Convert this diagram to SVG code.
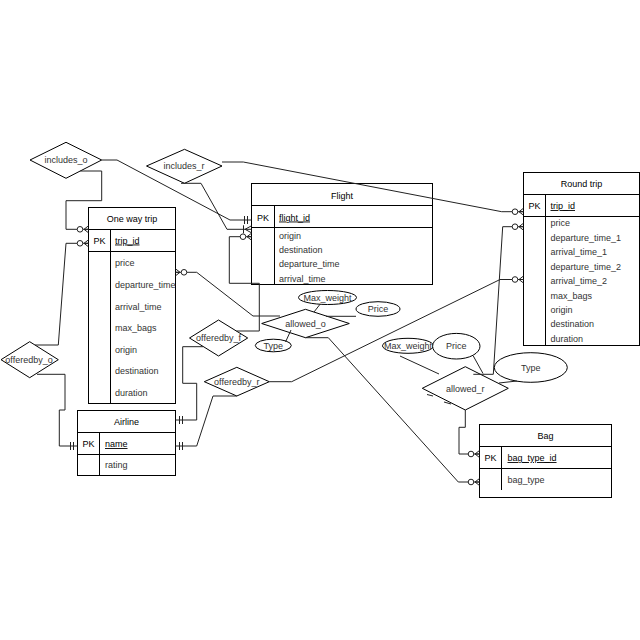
<svg xmlns="http://www.w3.org/2000/svg" width="640" height="640" viewBox="0 0 640 640">
<style>
.t{font-family:"Liberation Sans",Arial,sans-serif;font-size:9px;fill:#333}
.b{fill:#000}
.u{text-decoration:underline}
.c{text-anchor:middle}
.box{fill:#fff;stroke:#000;stroke-width:1}
.ln{fill:none;stroke:#000;stroke-width:1}
.sh{fill:#fff;stroke:#000;stroke-width:1}
.cn{fill:none;stroke:#222;stroke-width:1}
</style>
<defs>
<marker id="zm" viewBox="0 0 22 12" markerWidth="22" markerHeight="12" refX="20" refY="6" orient="auto" markerUnits="userSpaceOnUse">
<path d="M15.5,6 L20,2.5 M15.5,6 L20,9.5 M15.5,6 H20" fill="none" stroke="#222"/>
<circle cx="11.5" cy="6" r="2.8" fill="#fff" stroke="#222"/>
</marker>
<marker id="m1" viewBox="0 0 22 12" markerWidth="22" markerHeight="12" refX="20" refY="6" orient="auto" markerUnits="userSpaceOnUse">
<path d="M13,2 V10 M16,2 V10" fill="none" stroke="#222"/>
</marker>
<marker id="om" viewBox="0 0 22 12" markerWidth="22" markerHeight="12" refX="20" refY="6" orient="auto" markerUnits="userSpaceOnUse">
<path d="M12,2 V10 M13.5,6 L20,2.5 M13.5,6 L20,9.5" fill="none" stroke="#222"/>
</marker>
</defs>
<rect width="640" height="640" fill="#fff"/>

<g id="one_way_trip">
<rect class="box" x="88.5" y="207.5" width="87" height="196"/>
<path class="ln" d="M88.5,229.5 H175.5 M88.5,251.5 H175.5 M110.5,229.5 V403.5"/>
<text class="t b c" x="132" y="222">One way trip</text>
<text class="t b c" x="99.5" y="243.5">PK</text>
<text class="t b u" x="115" y="243.5">trip_id</text>
<text class="t" x="115" y="265.5">price</text>
<text class="t" x="115" y="287.5">departure_time</text>
<text class="t" x="115" y="309.5">arrival_time</text>
<text class="t" x="115" y="330.5">max_bags</text>
<text class="t" x="115" y="352.5">origin</text>
<text class="t" x="115" y="374">destination</text>
<text class="t" x="115" y="395.5">duration</text>
</g>

<g id="flight">
<rect class="box" x="251.5" y="183.5" width="181" height="101"/>
<path class="ln" d="M251.5,205.5 H432.5 M251.5,227.5 H432.5 M274.5,205.5 V284.5"/>
<text class="t b c" x="342" y="198.5">Flight</text>
<text class="t b c" x="263" y="220.5">PK</text>
<text class="t b u" x="279" y="220.5">flight_id</text>
<text class="t" x="279" y="238.5">origin</text>
<text class="t" x="279" y="252.5">destination</text>
<text class="t" x="279" y="267">departure_time</text>
<text class="t" x="279" y="281.5">arrival_time</text>
</g>

<g id="round_trip">
<rect class="box" x="523.5" y="172.5" width="116" height="173"/>
<path class="ln" d="M523.5,194.5 H639.5 M523.5,216.5 H639.5 M545.5,194.5 V345.5"/>
<text class="t b c" x="581.5" y="186.5">Round trip</text>
<text class="t b c" x="534.5" y="209">PK</text>
<text class="t b u" x="550.5" y="209">trip_id</text>
<text class="t" x="550.5" y="225.5">price</text>
<text class="t" x="550.5" y="240.5">departure_time_1</text>
<text class="t" x="550.5" y="255">arrival_time_1</text>
<text class="t" x="550.5" y="269.5">departure_time_2</text>
<text class="t" x="550.5" y="284">arrival_time_2</text>
<text class="t" x="550.5" y="298.5">max_bags</text>
<text class="t" x="550.5" y="312.5">origin</text>
<text class="t" x="550.5" y="327">destination</text>
<text class="t" x="550.5" y="341.5">duration</text>
</g>

<g id="airline">
<rect class="box" x="77.5" y="410.5" width="98" height="65"/>
<path class="ln" d="M77.5,432.5 H175.5 M77.5,454.5 H175.5 M99.5,432.5 V475.5"/>
<text class="t b c" x="126.5" y="424.5">Airline</text>
<text class="t b c" x="88.5" y="447">PK</text>
<text class="t b u" x="105" y="447">name</text>
<text class="t" x="105" y="468">rating</text>
</g>

<g id="bag">
<rect class="box" x="479.5" y="424.5" width="132" height="73"/>
<path class="ln" d="M479.5,446.5 H611.5 M479.5,468.5 H611.5 M501.5,446.5 V490"/>
<text class="t b c" x="545.5" y="439">Bag</text>
<text class="t b c" x="490.5" y="461">PK</text>
<text class="t b u" x="507.5" y="461">bag_type_id</text>
<text class="t" x="507.5" y="483">bag_type</text>
</g>

<g id="includes_o">
<polygon class="sh" points="30,160 66,142.3 101.7,160 66,178.3"/>
<text class="t c" x="66" y="163">includes_o</text>
</g>
<g id="includes_r">
<polygon class="sh" points="146.5,166 184.5,149.3 222,166 184.5,183.3"/>
<text class="t c" x="184" y="169">includes_r</text>
</g>
<g id="offeredby_o">
<polygon class="sh" points="1,359.7 29.7,341.7 58.3,359.7 29.7,377.7"/>
<text class="t c" x="29" y="362.7">offeredby_o</text>
</g>
<g id="offeredby_f">
<polygon class="sh" points="189.5,338 218.5,320 247.7,338 218.5,356"/>
<text class="t c" x="218.5" y="341">offeredby_f</text>
</g>
<g id="offeredby_r">
<polygon class="sh" points="204.3,381.7 236.8,367.3 269.3,381.7 236.8,396"/>
<text class="t c" x="236.8" y="384.5">offeredby_r</text>
</g>
<g id="allowed_o">
<polygon class="sh" points="261.7,323.5 305.5,309.3 349.3,323.5 305.5,337.7"/>
<text class="t c" x="305.5" y="326.5">allowed_o</text>
</g>
<g id="allowed_r">
<polygon class="sh" points="422.3,388.3 465.3,366.7 508.3,388.3 465.3,410"/>
<text class="t c" x="465.3" y="391.5">allowed_r</text>
</g>

<g id="max_weight_o">
<ellipse class="sh" cx="327.5" cy="297.5" rx="29" ry="7"/>
<text class="t c" x="327.5" y="300.5">Max_weight</text>
</g>
<g id="price_o">
<ellipse class="sh" cx="378" cy="309" rx="22" ry="7.3"/>
<text class="t c" x="378" y="312">Price</text>
</g>
<g id="type_o">
<ellipse class="sh" cx="273.3" cy="345.5" rx="18" ry="6.3"/>
<text class="t c" x="273.3" y="348.5">Type</text>
</g>
<g id="max_weight_r">
<ellipse class="sh" cx="408" cy="345.8" rx="25.5" ry="7.5"/>
<text class="t c" x="408" y="348.8">Max_weight</text>
</g>
<g id="price_r">
<ellipse class="sh" cx="456.3" cy="346.2" rx="23.7" ry="12.8"/>
<text class="t c" x="456.3" y="349.2">Price</text>
</g>
<g id="type_r">
<ellipse class="sh" cx="530.8" cy="367.5" rx="36.5" ry="14.8"/>
<text class="t c" x="530.8" y="370.5">Type</text>
</g>

<g id="connectors">
<path class="cn" d="M101.7,160 H117 L230,220 H251.5" marker-end="url(#m1)"/>
<path class="cn" d="M181,183.3 H201 L227,229.3 H251.5" marker-end="url(#om)"/>
<path class="cn" d="M80.3,171 H101.7 V200.7 H66 V229.3 H88.5" marker-end="url(#zm)"/>
<path class="cn" d="M222,162 H243.3 L501.7,211.7 H523.5" marker-end="url(#zm)"/>
<path class="cn" d="M473.3,374.3 H493.3 L502.7,226.7 H523.5" marker-end="url(#zm)"/>
<path class="cn" d="M269.3,381.7 H291.7 L500,279.5 H523.5" marker-end="url(#zm)"/>
<path class="cn" d="M35,345 H58.3 L66,243.3 H88.5" marker-end="url(#zm)"/>
<path class="cn" d="M37,374.3 H65 V410 H59.3 V446 H77.5" marker-end="url(#m1)"/>
<path class="cn" d="M203,346.7 H182.7 V383.3 H196.7 V420 H175.5" marker-end="url(#m1)"/>
<path class="cn" d="M236.5,331 H259.3 V283.3 H229.3 V236.7 H251.5" marker-end="url(#zm)"/>
<path class="cn" d="M236.8,396 H213 L196.7,446 H175.5" marker-end="url(#m1)"/>
<path class="cn" d="M280,316 H253 L196.7,272.3 H175.5" marker-end="url(#zm)"/>
<path class="cn" d="M305.5,337.7 H328.3 L458.3,482 H479.5" marker-end="url(#zm)"/>
<path class="cn" d="M465.3,410 V427.3 H459 V454 H479.5" marker-end="url(#zm)"/>
<path class="cn" d="M320,304.3 L314,312"/>
<path class="cn" d="M326,316.3 H356"/>
<path class="cn" d="M291,330 L285.5,342"/>
<path class="cn" d="M400,356 L439,374"/>
<path class="cn" d="M473.3,356 L483,373.5"/>
<path class="cn" d="M499,383 L517,381"/>
<path class="cn" d="M427,394.5 L433,396 M444,402 L451,404"/>
</g>
</svg>
